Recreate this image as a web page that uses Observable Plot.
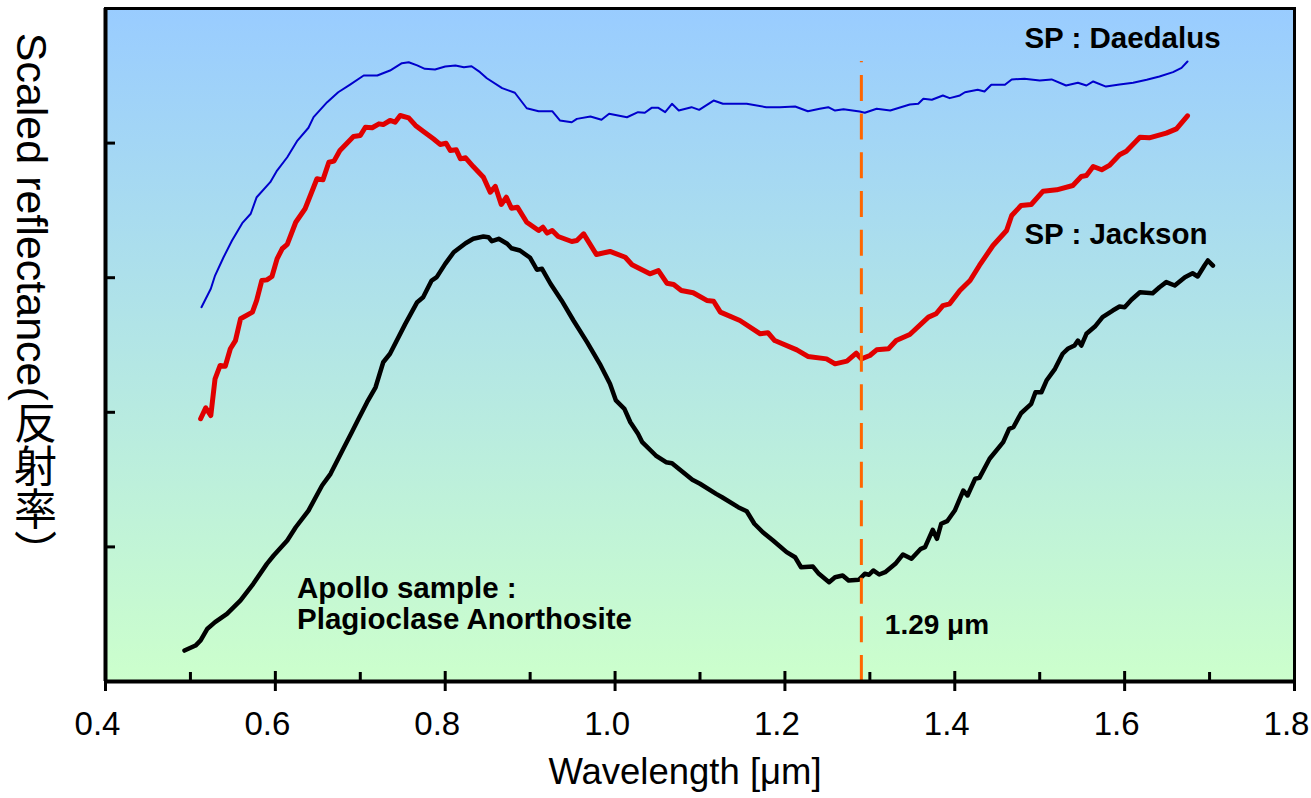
<!DOCTYPE html>
<html>
<head>
<meta charset="utf-8">
<script src="https://cdn.jsdelivr.net/npm/d3@7"></script>
<script src="https://cdn.jsdelivr.net/npm/@observablehq/plot@0.6"></script>
<style>
  html, body { margin: 0; padding: 0; background: #ffffff; }
</style>
</head>
<body>
<div id="chart"></div>
<script>
// ---- Data ----
const xTicks = [0.4, 0.6, 0.8, 1.0, 1.2, 1.4, 1.6, 1.8];
const xMinorTicks = [0.5, 0.7, 0.9, 1.1, 1.3, 1.5, 1.7];
const yTicks = [1, 2, 3, 4];

const xLabel = "Wavelength [μm]";
const yLabel = "Scaled reflectance(反射率）";
const seriesNames = ["SP : Daedalus", "SP : Jackson", "Apollo sample :\nPlagioclase Anorthosite"];
const markerLabel = "1.29 μm";
const markerWavelength = 1.29;
const markerTop = 4.606;

// SP : Daedalus (blue)
const daedalusWl = [0.513,0.524,0.529,0.539,0.549,0.561,0.571,0.578,0.594,0.602,0.614,0.626,0.639,0.645,0.661,0.674,0.688,0.704,0.720,0.735,0.749,0.757,0.767,0.776,0.788,0.800,0.812,0.822,0.831,0.841,0.849,0.867,0.882,0.896,0.910,0.926,0.935,0.949,0.955,0.971,0.984,0.993,1.014,1.027,1.035,1.043,1.051,1.059,1.067,1.075,1.090,1.099,1.116,1.127,1.155,1.178,1.194,1.212,1.227,1.241,1.251,1.259,1.269,1.288,1.294,1.308,1.324,1.347,1.357,1.363,1.373,1.386,1.394,1.406,1.412,1.427,1.435,1.443,1.459,1.467,1.482,1.500,1.514,1.531,1.545,1.555,1.563,1.578,1.594,1.610,1.626,1.641,1.657,1.667,1.674];
const daedalusR = [2.781,2.918,3.016,3.152,3.276,3.405,3.475,3.598,3.710,3.796,3.895,4.019,4.114,4.193,4.304,4.378,4.435,4.502,4.502,4.539,4.594,4.601,4.577,4.552,4.547,4.569,4.577,4.564,4.571,4.527,4.482,4.408,4.374,4.259,4.237,4.237,4.168,4.155,4.180,4.198,4.173,4.218,4.192,4.230,4.225,4.262,4.262,4.230,4.292,4.242,4.267,4.247,4.316,4.292,4.292,4.267,4.267,4.272,4.237,4.255,4.267,4.242,4.252,4.235,4.225,4.255,4.242,4.287,4.292,4.329,4.322,4.354,4.334,4.354,4.378,4.396,4.383,4.433,4.433,4.473,4.478,4.465,4.473,4.428,4.448,4.428,4.458,4.420,4.435,4.448,4.470,4.495,4.527,4.559,4.606];

// SP : Jackson (red)
const jacksonWl = [0.512,0.518,0.524,0.529,0.535,0.541,0.547,0.553,0.559,0.573,0.578,0.584,0.590,0.596,0.602,0.608,0.614,0.624,0.635,0.649,0.656,0.663,0.669,0.676,0.692,0.700,0.706,0.714,0.722,0.727,0.735,0.741,0.747,0.757,0.765,0.774,0.786,0.794,0.801,0.806,0.813,0.818,0.824,0.833,0.845,0.853,0.859,0.866,0.872,0.878,0.885,0.896,0.910,0.915,0.920,0.926,0.933,0.949,0.955,0.963,0.978,0.994,1.012,1.020,1.041,1.051,1.061,1.069,1.078,1.092,1.108,1.116,1.124,1.147,1.171,1.180,1.188,1.214,1.227,1.249,1.259,1.273,1.284,1.290,1.300,1.308,1.322,1.331,1.347,1.369,1.378,1.386,1.394,1.406,1.418,1.429,1.445,1.461,1.467,1.478,1.490,1.504,1.520,1.539,1.549,1.555,1.563,1.573,1.582,1.594,1.602,1.618,1.629,1.649,1.661,1.674];
const jacksonR = [1.952,2.033,1.976,2.249,2.348,2.342,2.472,2.533,2.695,2.744,2.831,2.979,2.984,3.009,3.140,3.215,3.247,3.412,3.512,3.735,3.727,3.858,3.866,3.945,4.049,4.056,4.118,4.114,4.143,4.138,4.168,4.155,4.205,4.188,4.131,4.088,4.032,3.990,3.999,3.945,3.950,3.883,3.891,3.826,3.747,3.635,3.678,3.544,3.598,3.516,3.524,3.412,3.351,3.375,3.331,3.351,3.306,3.269,3.276,3.326,3.172,3.195,3.152,3.096,3.029,3.053,2.959,2.949,2.905,2.888,2.831,2.825,2.744,2.682,2.583,2.591,2.533,2.464,2.415,2.397,2.360,2.380,2.439,2.397,2.422,2.464,2.472,2.533,2.578,2.707,2.732,2.793,2.806,2.905,2.979,3.091,3.239,3.351,3.462,3.536,3.544,3.643,3.653,3.685,3.752,3.759,3.826,3.802,3.834,3.913,3.940,4.044,4.039,4.074,4.106,4.203];

// Apollo sample : Plagioclase Anorthosite (black)
const apolloWl = [0.493,0.506,0.512,0.520,0.529,0.543,0.559,0.574,0.590,0.598,0.614,0.624,0.639,0.655,0.665,0.680,0.690,0.698,0.708,0.718,0.727,0.735,0.753,0.767,0.774,0.784,0.790,0.800,0.810,0.824,0.833,0.845,0.851,0.855,0.863,0.873,0.878,0.888,0.900,0.908,0.914,0.924,0.937,0.951,0.967,0.982,0.994,1.001,1.011,1.018,1.027,1.032,1.048,1.060,1.067,1.091,1.100,1.119,1.126,1.145,1.155,1.164,1.174,1.186,1.202,1.212,1.219,1.233,1.240,1.252,1.259,1.268,1.275,1.287,1.294,1.299,1.304,1.311,1.318,1.330,1.339,1.349,1.360,1.365,1.374,1.379,1.384,1.391,1.400,1.410,1.415,1.424,1.429,1.441,1.457,1.464,1.469,1.478,1.490,1.495,1.502,1.508,1.518,1.527,1.533,1.541,1.545,1.549,1.555,1.565,1.574,1.586,1.594,1.600,1.608,1.618,1.633,1.641,1.649,1.659,1.671,1.680,1.686,1.694,1.698,1.704];
const apolloR = [0.230,0.267,0.305,0.392,0.441,0.503,0.602,0.726,0.874,0.936,1.048,1.146,1.270,1.456,1.543,1.729,1.852,1.952,2.075,2.186,2.372,2.435,2.657,2.818,2.855,2.979,3.004,3.103,3.189,3.256,3.289,3.306,3.301,3.271,3.289,3.252,3.219,3.202,3.148,3.059,3.066,2.955,2.831,2.682,2.521,2.360,2.212,2.088,2.026,1.926,1.840,1.778,1.679,1.629,1.622,1.499,1.469,1.394,1.369,1.295,1.265,1.172,1.109,1.048,0.961,0.923,0.849,0.854,0.800,0.738,0.775,0.788,0.750,0.756,0.800,0.793,0.825,0.795,0.812,0.874,0.944,0.912,0.986,0.998,1.127,1.060,1.172,1.191,1.270,1.419,1.382,1.506,1.513,1.655,1.778,1.877,1.889,1.993,2.063,2.149,2.149,2.236,2.323,2.435,2.472,2.496,2.533,2.496,2.583,2.637,2.707,2.756,2.786,2.781,2.836,2.892,2.885,2.929,2.967,2.942,3.004,3.033,3.009,3.091,3.128,3.090];

// ---- Build tables ----
function zipSeries(wl, r) {
  const n = Math.min(wl.length, r.length);
  return d3.range(n).map(i => ({wl: wl[i], r: r[i]}));
}
const daedalus = zipSeries(daedalusWl, daedalusR);
const jackson = zipSeries(jacksonWl, jacksonR);
const apollo = zipSeries(apolloWl, apolloR);

const FONT = '"Liberation Sans", Arial, "Noto Sans CJK JP", sans-serif';

const chart = Plot.plot({
  width: 1311,
  height: 798,
  marginLeft: 105,
  marginRight: 17,
  marginTop: 8,
  marginBottom: 117,
  style: {fontFamily: FONT, background: "#ffffff", color: "#000000", overflow: "visible"},
  x: {domain: [0.4, 1.8]},
  y: {domain: [0, 5]},
  marks: [
    Plot.frame({fill: "url(#bgGrad)"}),
    // axes: tick labels (slightly left of their ticks, as in the reference)
    Plot.axisX({ticks: xTicks, tickSize: 0, tickPadding: 30, tickFormat: d3.format(".1f"), fontSize: 33, dx: -8, label: null}),
    // outward and inward major ticks, inward minor ticks
    Plot.axisX({ticks: xTicks, tickSize: 10, tickFormat: () => "", strokeWidth: 3, label: null}),
    Plot.axisX({ticks: xTicks, tickSize: -10, tickFormat: () => "", strokeWidth: 3, label: null}),
    Plot.axisX({ticks: xMinorTicks, tickSize: -9, tickFormat: () => "", strokeWidth: 3, label: null}),
    Plot.axisY({ticks: yTicks, tickSize: -10, tickFormat: () => "", strokeWidth: 3, label: null}),
    // curves
    Plot.line(daedalus, {x: "wl", y: "r", stroke: "#0000CC", strokeWidth: 2, strokeLinejoin: "round"}),
    Plot.line(jackson, {x: "wl", y: "r", stroke: "#E00000", strokeWidth: 5, strokeLinejoin: "round", strokeLinecap: "round"}),
    Plot.line(apollo, {x: "wl", y: "r", stroke: "#000000", strokeWidth: 4.5, strokeLinejoin: "round", strokeLinecap: "round"}),
    // 1.29 µm marker
    Plot.ruleX([markerWavelength], {y1: 0, y2: markerTop, stroke: "#FF6600", strokeWidth: 3, strokeDasharray: "26,12.67"}),
    // frame
    Plot.frame({stroke: "#000000", strokeWidth: 3}),
    Plot.ruleX([0.4], {stroke: "#000000", strokeWidth: 4}),
    Plot.ruleY([0], {stroke: "#000000", strokeWidth: 4}),
    // annotations
    Plot.text([seriesNames[0]], {x: 1.482, y: 4.779, textAnchor: "start", fontSize: 29.5, fontWeight: "bold"}),
    Plot.text([seriesNames[1]], {x: 1.482, y: 3.319, textAnchor: "start", fontSize: 29.5, fontWeight: "bold"}),
    Plot.text([seriesNames[2]], {x: 0.6255, y: 0.578, textAnchor: "start", fontSize: 29.5, fontWeight: "bold", lineHeight: 1.05}),
    Plot.text([markerLabel], {x: 1.3176, y: 0.416, textAnchor: "start", fontSize: 28, fontWeight: "bold"}),
    // axis titles
    Plot.text([xLabel], {frameAnchor: "bottom", dx: -15, dy: 102, fontSize: 36.5}),
    Plot.text([yLabel], {frameAnchor: "left", dx: -74, dy: -56, fontSize: 43})
  ]
});

// gradient background definition
const svg = d3.select(chart);
const defs = svg.insert("defs", ":first-child");
const grad = defs.append("linearGradient")
  .attr("id", "bgGrad").attr("x1", 0).attr("y1", 0).attr("x2", 0).attr("y2", 1);
grad.append("stop").attr("offset", "0%").attr("stop-color", "#99CCFF");
grad.append("stop").attr("offset", "100%").attr("stop-color", "#CCFFCC");

// vertical (tategaki) writing for the y label
svg.selectAll("text").filter(function() { return this.textContent === yLabel; })
  .attr("dy", null)
  .style("writing-mode", "vertical-rl")
  .attr("text-anchor", "middle");

document.getElementById("chart").appendChild(chart);
</script>
</body>
</html>
